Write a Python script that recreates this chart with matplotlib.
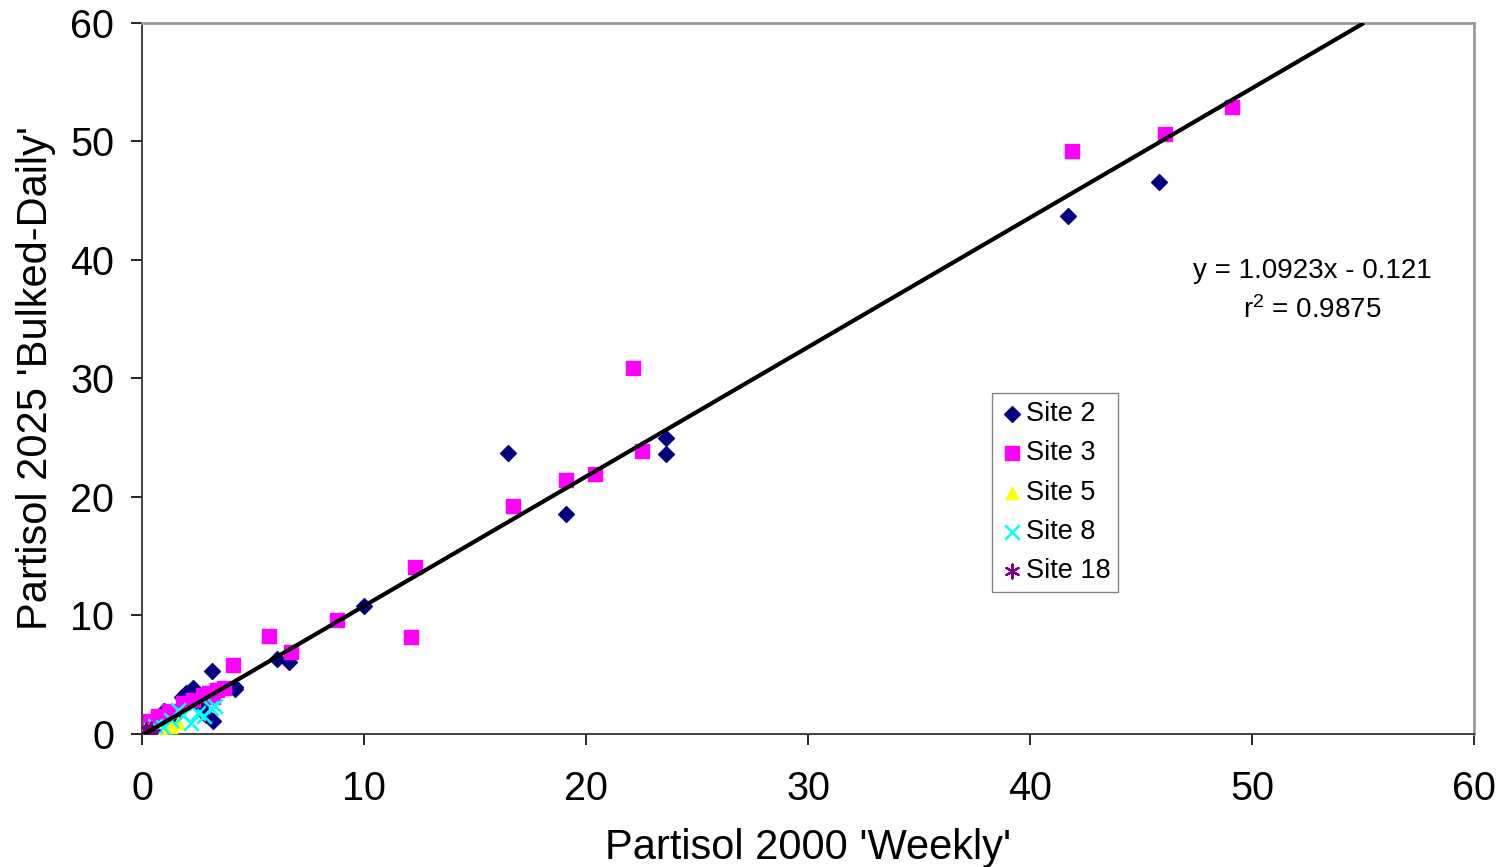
import numpy as np
import matplotlib
matplotlib.use("Agg")
import matplotlib.pyplot as plt

plt.rcParams["font.family"] = ["Liberation Sans", "DejaVu Sans"]

# ── data ──
site2_x = [41.7, 45.8, 23.6, 23.6, 16.5, 19.1, 10.0, 6.1, 6.6, 3.15, 4.2, 4.2,
           2.3, 2.0, 1.8, 3.2, 2.9, 1.0, 1.5, 0.7, 0.4, 2.6]
site2_y = [43.7, 46.6, 25.0, 23.6, 23.7, 18.6, 10.8, 6.3, 6.1, 5.3, 4.0, 3.8,
           3.9, 3.5, 3.1, 1.1, 1.6, 1.9, 1.5, 0.9, 0.5, 2.3]

site3_x = [49.1, 46.1, 41.9, 22.1, 22.5, 20.4, 19.1, 16.7, 12.3, 12.1, 8.8,
           5.7, 6.7, 4.1, 3.7, 3.4, 3.0, 2.75, 2.3, 1.85, 0.7, 0.35, 3.2, 1.2]
site3_y = [52.9, 50.6, 49.2, 30.9, 23.9, 21.9, 21.4, 19.2, 14.1, 8.2, 9.6,
           8.3, 6.9, 5.8, 3.9, 3.7, 3.5, 3.3, 2.9, 2.6, 1.5, 1.1, 3.1, 1.9]

site5_x = [0.1, 0.3, 0.5, 0.8, 1.3, 1.6, 0.2]
site5_y = [0.05, 0.3, 0.2, 0.5, 0.6, 0.9, 0.1]

site8_x = [3.1, 2.2, 2.8, 1.85, 1.3, 1.6, 0.95, 0.6, 2.5, 3.3, 0.4]
site8_y = [2.2, 0.9, 1.5, 1.6, 1.2, 2.0, 0.6, 0.7, 1.8, 2.4, 0.3]

site18_x = [0.1, 0.2, 0.3, 0.4, 0.5]
site18_y = [0.1, 0.3, 0.2, 0.4, 0.1]

slope, intercept = 1.0923, -0.121
ticks = [0, 10, 20, 30, 40, 50, 60]

fig = plt.figure(figsize=(14.98, 8.67), dpi=100)
ax = fig.add_axes([0.0948, 0.1534, 0.8892, 0.8201])

ax.scatter(site2_x, site2_y, marker="D", s=65, color="#000080", label="Site 2", zorder=3)
ax.scatter(site3_x, site3_y, marker="s", s=90, color="#FF00FF", label="Site 3", zorder=3)
ax.scatter(site5_x, site5_y, marker="^", s=80, color="#FFFF00", label="Site 5", zorder=3)
ax.scatter(site8_x, site8_y, marker="x", s=110, color="#00FFFF", linewidths=1.8,
           label="Site 8", zorder=3)
ax.scatter(site18_x, site18_y, marker=(6, 2, 0), s=100, color="#800080", linewidths=1.6,
           label="Site 18", zorder=3)

x_end = (60 - intercept) / slope
xl = np.array([0, x_end])
ax.plot(xl, slope * xl + intercept, color="black", lw=3, zorder=4, solid_capstyle="butt")

ax.set_xlim(0, 60)
ax.set_ylim(0, 60)
ax.set_xticks(ticks)
ax.set_yticks(ticks)
ax.tick_params(labelsize=28.5, length=8, width=1.2, direction="out")
ax.tick_params(axis="x", pad=18)
ax.tick_params(axis="y", pad=12)
ax.set_xlabel("Partisol 2000 'Weekly'", fontsize=30, labelpad=14)
ax.set_ylabel("Partisol 2025 'Bulked-Daily'", fontsize=30, labelpad=10)

for side in ("left", "bottom"):
    ax.spines[side].set_color("#333333")
    ax.spines[side].set_linewidth(1.3)
for side in ("top", "right"):
    ax.spines[side].set_color("#999999")
    ax.spines[side].set_linewidth(2)

ax.text(52.7, 39.1, "y = 1.0923x - 0.121", fontsize=20, ha="center", va="center")
ax.text(52.7, 35.8, "$\\mathregular{r^2}$ = 0.9875", fontsize=20, ha="center", va="center")

leg = ax.legend(loc="upper left", bbox_to_anchor=(0.638, 0.4796), fontsize=19.5,
                frameon=True, fancybox=False, edgecolor="#666666", borderpad=0.3,
                handletextpad=0.05, handlelength=0.9, labelspacing=0.49,
                borderaxespad=0, markerscale=1.0)
leg.get_frame().set_linewidth(1.0)

fig.savefig("out.png", dpi=100)
